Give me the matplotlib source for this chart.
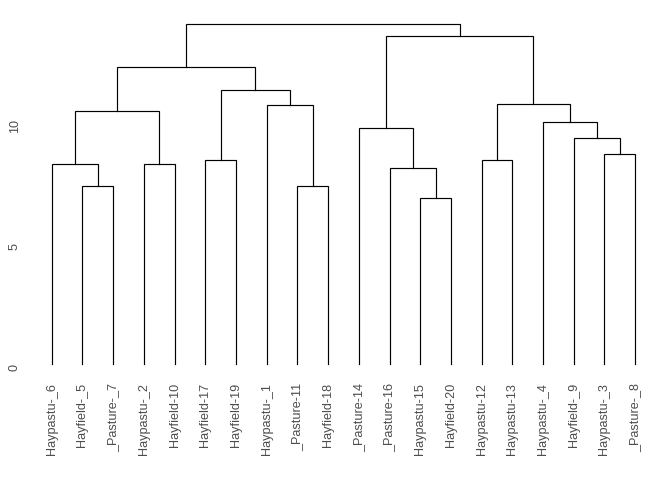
import matplotlib
matplotlib.use("Agg")
import matplotlib.pyplot as plt
from matplotlib.transforms import ScaledTranslation

# leaf labels, left to right
labels = ["Haypastu-_6", "Hayfield-_5", "_Pasture-_7", "Haypastu-_2", "Hayfield-10",
          "Hayfield-17", "Hayfield-19", "Haypastu-_1", "_Pasture-11", "Hayfield-18",
          "_Pasture-14", "_Pasture-16", "Haypastu-15", "Hayfield-20", "Haypastu-12",
          "Haypastu-13", "Haypastu-_4", "Hayfield-_9", "Haypastu-_3", "_Pasture-_8"]

# merges: (left child, right child, height); ints < 20 are leaves, >= 20 are earlier merges
merge_left = [1, 0, 3, 21, 5, 8, 7, 24, 23, 12, 11, 10, 14, 18, 17, 16, 32, 31, 28]
merge_right = [2, 20, 4, 22, 6, 9, 25, 26, 27, 13, 29, 30, 15, 19, 33, 34, 35, 36, 37]
merge_height = [7.37, 8.29, 8.29, 10.50, 8.45, 7.37, 10.73, 11.36, 12.31, 6.88,
                8.12, 9.79, 8.45, 8.70, 9.38, 10.03, 10.78, 13.60, 14.10]

n = len(labels)
xpos = {i: i + 1 for i in range(n)}
ypos = {i: 0.0 for i in range(n)}

fig = plt.figure(figsize=(6.72, 4.8), dpi=100)
ax = fig.add_axes([0.0496, 0.206, 0.923, 0.7788])

for k, (a, b, h) in enumerate(zip(merge_left, merge_right, merge_height)):
    xa, xb = xpos[a], xpos[b]
    ax.plot([xa, xa, xb, xb], [ypos[a], h, h, ypos[b]], color="black", lw=0.85,
            solid_joinstyle="miter")
    xpos[n + k] = (xa + xb) / 2
    ypos[n + k] = h

for i, lab in enumerate(labels):
    ax.text(i + 1, -0.79, lab, rotation=90, ha="center", va="top",
            fontsize=9.1, color="#4D4D4D", family="Liberation Sans")

ax.set_xlim(0.4, n + 0.6)
ax.set_ylim(-0.71, 14.8)
ax.set_xticks([])
ax.set_yticks([0, 5, 10])
ax.set_yticklabels(["0", "5", "10"], rotation=90, va="center",
                   fontsize=9.1, color="#4D4D4D", family="Liberation Sans")
ax.tick_params(axis="y", length=0, pad=9)
shift = ScaledTranslation(0, -3 / 100, fig.dpi_scale_trans)
for t in ax.get_yticklabels():
    t.set_transform(t.get_transform() + shift)
for s in ax.spines.values():
    s.set_visible(False)

fig.savefig("out.png", dpi=100)
